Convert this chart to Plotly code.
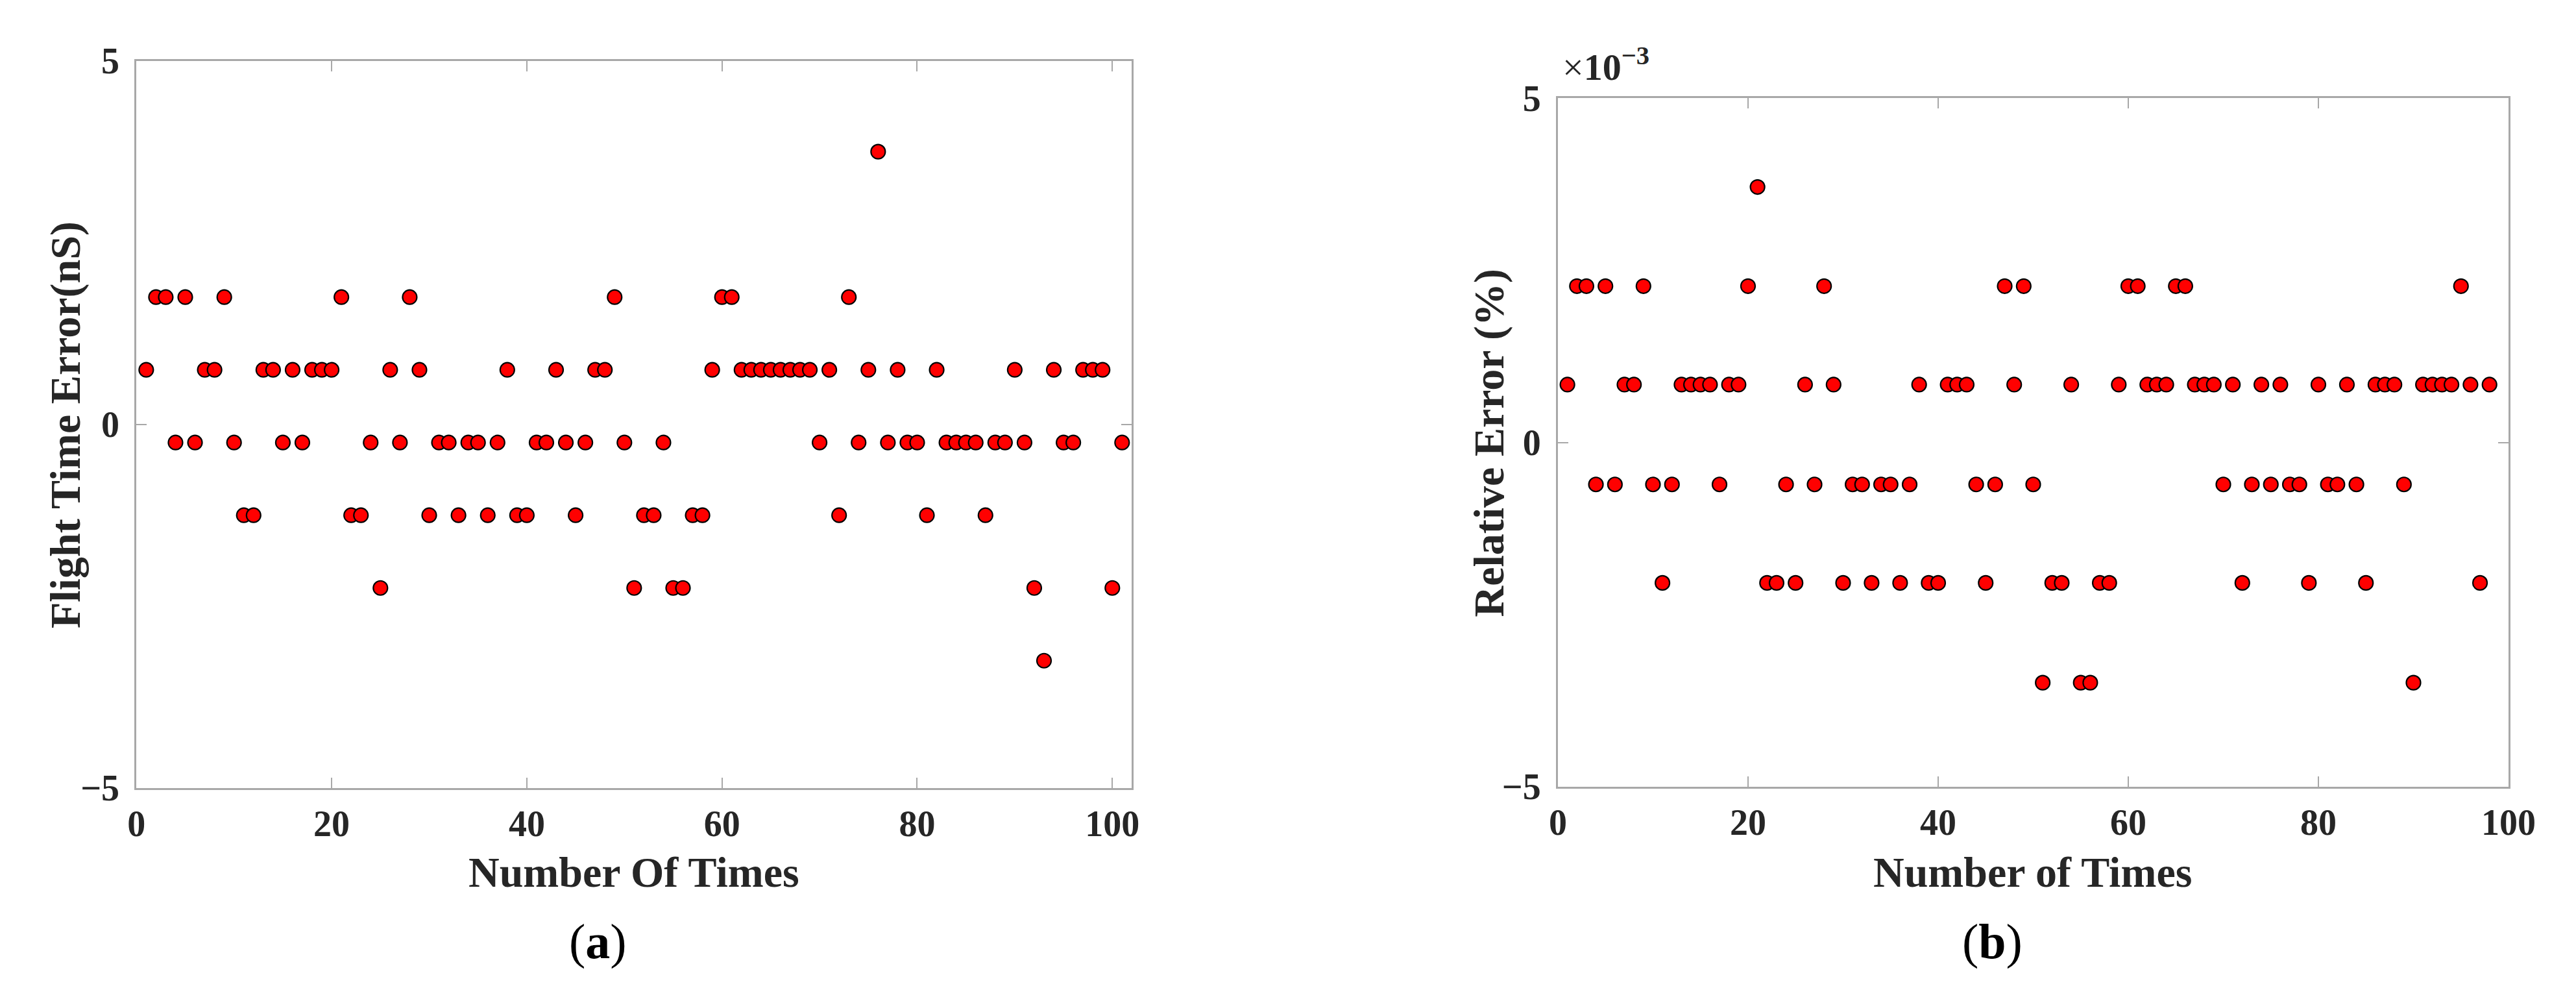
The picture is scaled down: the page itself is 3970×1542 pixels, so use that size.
import plotly.graph_objects as go

# ---------------- data ----------------
# (a) flight time error (nS) for runs 1..101
times_a = list(range(1, 102))
flight_err = [
    0.75, 1.75, 1.75, -0.25, 1.75, -0.25, 0.75, 0.75, 1.75, -0.25,
    -1.25, -1.25, 0.75, 0.75, -0.25, 0.75, -0.25, 0.75, 0.75, 0.75,
    1.75, -1.25, -1.25, -0.25, -2.25, 0.75, -0.25, 1.75, 0.75, -1.25,
    -0.25, -0.25, -1.25, -0.25, -0.25, -1.25, -0.25, 0.75, -1.25, -1.25,
    -0.25, -0.25, 0.75, -0.25, -1.25, -0.25, 0.75, 0.75, 1.75, -0.25,
    -2.25, -1.25, -1.25, -0.25, -2.25, -2.25, -1.25, -1.25, 0.75, 1.75,
    1.75, 0.75, 0.75, 0.75, 0.75, 0.75, 0.75, 0.75, 0.75, -0.25,
    0.75, -1.25, 1.75, -0.25, 0.75, 3.75, -0.25, 0.75, -0.25, -0.25,
    -1.25, 0.75, -0.25, -0.25, -0.25, -0.25, -1.25, -0.25, -0.25, 0.75,
    -0.25, -2.25, -3.25, 0.75, -0.25, -0.25, 0.75, 0.75, 0.75, -2.25,
    -0.25,
]

# (b) relative error (%), values in units of 1e-3, runs 1..98
times_b = list(range(1, 99))
rel_err_e3 = [
    0.84, 2.27, 2.27, -0.61, 2.27, -0.61, 0.84, 0.84, 2.27, -0.61,
    -2.04, -0.61, 0.84, 0.84, 0.84, 0.84, -0.61, 0.84, 0.84, 2.27,
    3.71, -2.04, -2.04, -0.61, -2.04, 0.84, -0.61, 2.27, 0.84, -2.04,
    -0.61, -0.61, -2.04, -0.61, -0.61, -2.04, -0.61, 0.84, -2.04, -2.04,
    0.84, 0.84, 0.84, -0.61, -2.04, -0.61, 2.27, 0.84, 2.27, -0.61,
    -3.49, -2.04, -2.04, 0.84, -3.49, -3.49, -2.04, -2.04, 0.84, 2.27,
    2.27, 0.84, 0.84, 0.84, 2.27, 2.27, 0.84, 0.84, 0.84, -0.61,
    0.84, -2.04, -0.61, 0.84, -0.61, 0.84, -0.61, -0.61, -2.04, 0.84,
    -0.61, -0.61, 0.84, -0.61, -2.04, 0.84, 0.84, 0.84, -0.61, -3.49,
    0.84, 0.84, 0.84, 0.84, 2.27, 0.84, -2.04, 0.84,
]
rel_err = [v * 1e-3 for v in rel_err_e3]

x_ticks = [0, 20, 40, 60, 80, 100]
x_ticklabels = ["0", "20", "40", "60", "80", "100"]
ya_ticks = [-5, 0, 5]
yb_ticks = [-0.005, 0, 0.005]
y_ticklabels = ["\u22125", "0", "5"]

# ---------------- figure ----------------
W, H = 3970, 1542
FONT = "Liberation Serif"
DARK = "#262626"
AXC = "#a8a8a8"


def px_x(p):
    return p / W


def px_y(p):
    return (H - p) / H


fig = go.Figure()
marker = dict(size=22, color="#ff0000", line=dict(color="#000000", width=2.2))
fig.add_trace(go.Scatter(x=times_a, y=flight_err, mode="markers", marker=marker,
                         xaxis="x", yaxis="y", showlegend=False))
fig.add_trace(go.Scatter(x=times_b, y=rel_err, mode="markers", marker=marker,
                         xaxis="x2", yaxis="y2", showlegend=False))

axis_common = dict(
    showgrid=False, zeroline=False, showline=True, linecolor=AXC, linewidth=3,
    mirror="ticks", ticks="inside", ticklen=16, tickwidth=2, tickcolor=AXC,
    tickfont=dict(family=FONT, size=56, color=DARK), fixedrange=True,
)

fig.update_layout(
    width=W, height=H,
    margin=dict(l=0, r=0, t=0, b=0),
    paper_bgcolor="white", plot_bgcolor="white",
    font=dict(family=FONT, color=DARK),
    xaxis=dict(domain=[px_x(191), px_x(1747)], range=[0, 102], anchor="y",
               tickvals=x_ticks, ticktext=[f"<b>{t}</b>" for t in x_ticklabels],
               ticklabelstandoff=4, **axis_common),
    yaxis=dict(domain=[px_y(1225), px_y(58)], range=[-5, 5], anchor="x",
               tickvals=ya_ticks, ticktext=[f"<b>{t}</b>" for t in y_ticklabels],
               ticklabelstandoff=12, **axis_common),
    xaxis2=dict(domain=[px_x(2413), px_x(3899)], range=[0, 100], anchor="y2",
                tickvals=x_ticks, ticktext=[f"<b>{t}</b>" for t in x_ticklabels],
                ticklabelstandoff=4, **axis_common),
    yaxis2=dict(domain=[px_y(1223), px_y(118)], range=[-0.005, 0.005], anchor="x2",
                tickvals=yb_ticks, ticktext=[f"<b>{t}</b>" for t in y_ticklabels],
                ticklabelstandoff=12, **axis_common),
)

title_font = dict(family=FONT, size=66, color=DARK)
ann = [
    dict(text="<b>Flight Time Error(nS)</b>", x=px_x(80), y=px_y(642), textangle=-90,
         font=title_font),
    dict(text="<b>Number Of Times</b>", x=px_x(969), y=px_y(1360), font=title_font),
    dict(text="<b>Relative Error (%)</b>", x=px_x(2306), y=px_y(671), textangle=-90,
         font=title_font),
    dict(text="<b>Number of Times</b>", x=px_x(3155), y=px_y(1360), font=title_font),
    dict(text="(<b>a</b>)", x=px_x(912), y=px_y(1472),
         font=dict(family=FONT, size=76, color="#000000")),
    dict(text="(<b>b</b>)", x=px_x(3092), y=px_y(1472),
         font=dict(family=FONT, size=76, color="#000000")),
    dict(text="\u00d7<b>10</b><sup><b>\u22123</b></sup>", x=px_x(2418), y=px_y(104),
         xanchor="left", yanchor="bottom",
         font=dict(family=FONT, size=58, color=DARK)),
]
for a in ann:
    a.setdefault("xanchor", "center")
    a.setdefault("yanchor", "middle")
    a.update(xref="paper", yref="paper", showarrow=False)
fig.update_layout(annotations=ann)

fig.write_html("out.html")
